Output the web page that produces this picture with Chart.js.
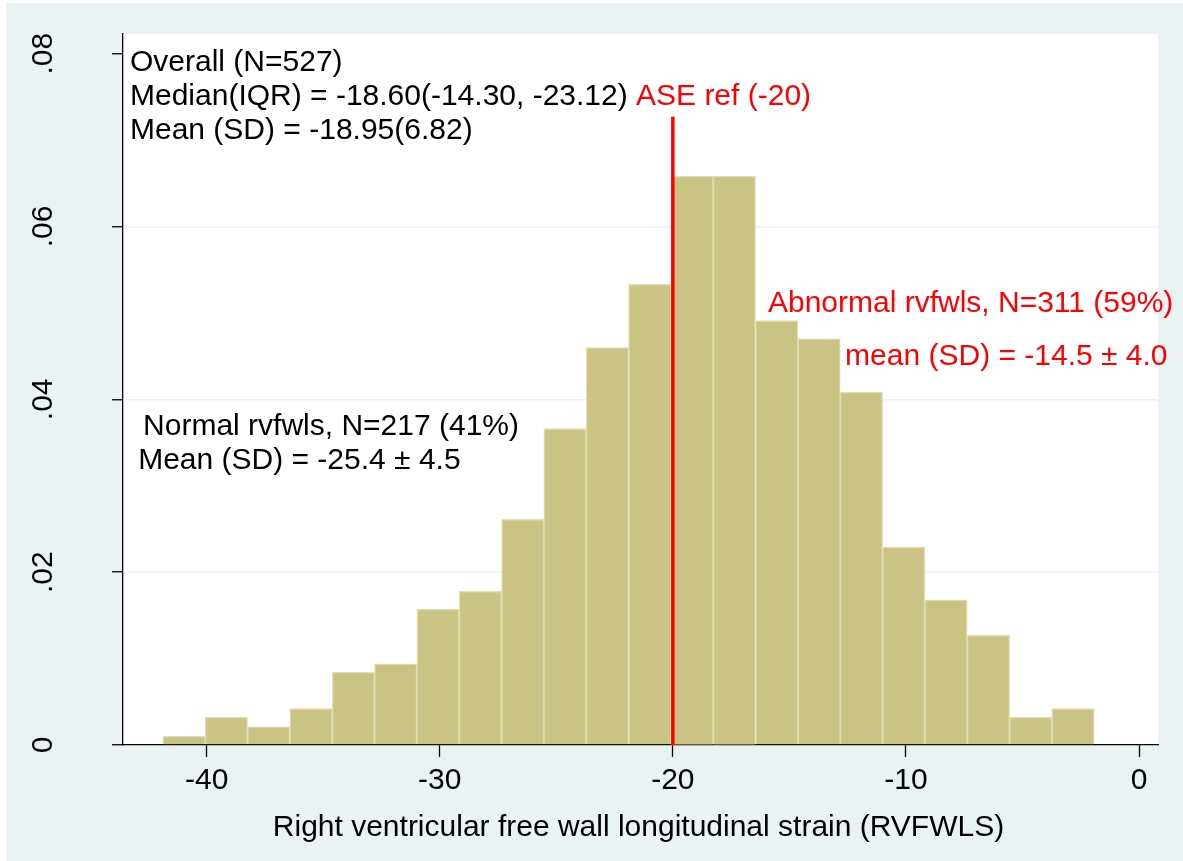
<!DOCTYPE html>
<html>
<head>
<meta charset="utf-8">
<title>RVFWLS histogram</title>
<script src="https://cdn.jsdelivr.net/npm/chart.js@4.4.1/dist/chart.umd.min.js"></script>
<style>
    html, body { margin: 0; padding: 0; background: #ffffff; }
    #wrap { width: 1183px; height: 861px; }
</style>
</head>
<body>
<div id="wrap"><canvas id="strainChart" width="1183" height="861"></canvas></div>
<script>
// histogram bins (left edges) and density of each bin
const binEdges = [-41.88, -40.06, -38.25, -36.43, -34.61, -32.80, -30.98, -29.17, -27.35, -25.53, -23.72,
                  -21.90, -20.08, -18.27, -16.45, -14.63, -12.82, -11.00, -9.19, -7.37, -5.55, -3.74, -1.92];
const density = [0.0010, 0.0032, 0.0021, 0.0042, 0.0084, 0.0094, 0.0157, 0.0178, 0.0261, 0.0366, 0.0460,
                 0.0533, 0.0658, 0.0658, 0.0491, 0.0470, 0.0408, 0.0229, 0.0168, 0.0127, 0.0032, 0.0042];

const xTicks = [-40, -30, -20, -10, 0];
const yTicks = [0, 0.02, 0.04, 0.06, 0.08];
const yTickLabels = ["0", ".02", ".04", ".06", ".08"];
const xTitle = "Right ventricular free wall longitudinal strain (RVFWLS)";

const aseRef = -20;
const aseLabel = "ASE ref (-20)";
const overallText = ["Overall (N=527)", "Median(IQR) = -18.60(-14.30, -23.12)", "Mean (SD) = -18.95(6.82)"];
const abnormalText = ["Abnormal rvfwls, N=311 (59%)", "mean (SD) = -14.5 \u00b1 4.0"];
const normalText = ["Normal rvfwls, N=217 (41%)", "Mean (SD) = -25.4 \u00b1 4.5"];

// text anchors in data units (x = strain, y = density), left aligned
const notePlaces = [
    { lines: overallText, x: -43.29, y: [0.0789, 0.0750, 0.0711], color: "#000000" },
    { lines: [aseLabel], x: -21.58, y: [0.0750], color: "#ff0000" },
    { lines: abnormalText, x: [-15.92, -12.61], y: [0.0511, 0.0449], color: "#ff0000" },
    { lines: normalText, x: [-42.73, -42.94], y: [0.0368, 0.0329], color: "#000000" }
];

const FONT = "30px 'Liberation Sans', Arial, Helvetica, sans-serif";
const BG = "#eaf2f3";

let barData = density.map((d, i) => ({ x: (binEdges[i] + binEdges[i + 1]) / 2, y: d }));

// graph region + white plot region
const backdrop = {
    id: "backdrop",
    beforeDraw(chart) {
        const { ctx, chartArea: a } = chart;
        ctx.save();
        ctx.fillStyle = "#ffffff";
        ctx.fillRect(0, 0, chart.width, chart.height);
        ctx.fillStyle = BG;
        ctx.fillRect(6, 3, chart.width - 6, chart.height - 3);
        ctx.fillStyle = "#ffffff";
        ctx.fillRect(a.left, a.top, a.right - a.left, a.bottom - a.top);
        ctx.restore();
    }
};

// rotated y labels, x title and the text notes
const notes = {
    id: "notes",
    afterDraw(chart) {
        const { ctx, chartArea: a } = chart;
        const xs = chart.scales.x, ys = chart.scales.y;
        ctx.save();
        ctx.font = FONT;
        ctx.textBaseline = "middle";
        ctx.fillStyle = "#000000";
        ctx.textAlign = "center";
        yTicks.forEach((v, i) => {
            ctx.save();
            ctx.translate(44, ys.getPixelForValue(v));
            ctx.rotate(-Math.PI / 2);
            ctx.fillText(yTickLabels[i], 0, 0);
            ctx.restore();
        });
        ctx.fillText(xTitle, (a.left + a.right) / 2 - 2, 828);

        ctx.textAlign = "left";
        notePlaces.forEach((n) => {
            ctx.fillStyle = n.color;
            n.lines.forEach((line, i) => {
                let xv = Array.isArray(n.x) ? n.x[i] : n.x;
                ctx.fillText(line, xs.getPixelForValue(xv), ys.getPixelForValue(n.y[i]));
            });
        });
        ctx.restore();
    }
};

let ctx = document.getElementById("strainChart").getContext("2d");
window.strainChart = new Chart(ctx, {
    type: "bar",
    data: {
        datasets: [
            {
                type: "line",
                data: [{ x: aseRef, y: 0 }, { x: aseRef, y: 0.0727 }],
                borderColor: "#ff0000",
                borderWidth: 3.5,
                pointRadius: 0,
                order: 1
            },
            {
                data: barData,
                backgroundColor: "#cbc383",
                borderColor: "#e2ddb0",
                borderWidth: 1.3,
                barPercentage: 1,
                categoryPercentage: 1,
                order: 2
            }
        ]
    },
    options: {
        responsive: false,
        animation: false,
        events: [],
        layout: { padding: { left: 0, top: 34, right: 25, bottom: 0 } },
        plugins: { legend: { display: false }, tooltip: { enabled: false } },
        scales: {
            x: {
                type: "linear",
                min: -43.59,
                max: 0.815,
                offset: false,
                afterBuildTicks: (s) => { s.ticks = xTicks.map((v) => ({ value: v })); },
                afterFit: (s) => { s.height = 116; },
                grid: { display: true, drawOnChartArea: false, offset: false, drawTicks: true, tickLength: 12, tickColor: "#000000", tickWidth: 1.3 },
                border: { display: true, color: "#000000", width: 1.3 },
                ticks: {
                    color: "#000000",
                    padding: 6,
                    maxRotation: 0,
                    font: { family: "'Liberation Sans', Arial, Helvetica, sans-serif", size: 30 },
                    callback: (v) => String(v)
                }
            },
            y: {
                type: "linear",
                min: 0,
                max: 0.08227,
                afterBuildTicks: (s) => { s.ticks = yTicks.map((v) => ({ value: v })); },
                afterFit: (s) => { s.width = 123; },
                grid: {
                    display: true,
                    drawOnChartArea: true,
                    drawTicks: true,
                    tickLength: 11,
                    tickColor: "#000000",
                    tickWidth: 1.3,
                    lineWidth: 1.5,
                    color: (c) => (c.tick && (c.tick.value === 0 || c.tick.value === 0.08)) ? "rgba(0,0,0,0)" : BG
                },
                border: { display: true, color: "#000000", width: 1.3 },
                ticks: { display: false }
            }
        }
    },
    plugins: [backdrop, notes]
});
</script>
</body>
</html>
